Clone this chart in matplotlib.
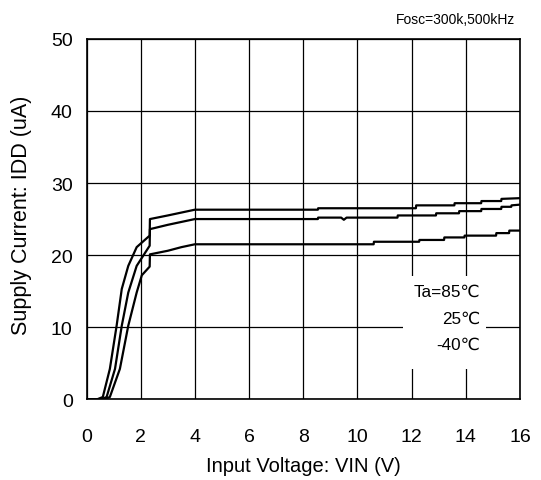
#!/usr/bin/env python3
"""
Supply current vs input voltage (IDD-VIN)
"""
import matplotlib
matplotlib.use('Agg')
import matplotlib.pyplot as plt
from matplotlib.patches import Rectangle

plt.rcParams['font.family'] = ['Liberation Sans', 'DejaVu Sans']

# Ta = 85C (top curve)
vin_85 = [0, 0.4, 0.6, 0.86, 1.11, 1.30, 1.54, 1.85, 2.33, 2.34, 3.0, 3.5, 4.0,
          8.54, 8.55, 12.16, 12.17, 13.58, 13.59, 14.57, 14.58, 15.31, 15.32, 16]
idd_85 = [0, 0, 0.3, 4.2, 10.2, 15.3, 18.5, 21.1, 22.7, 25.0, 25.5, 25.9, 26.3,
          26.3, 26.5, 26.5, 26.9, 26.9, 27.2, 27.2, 27.5, 27.5, 27.8, 27.9]

# Ta = 25C (middle curve)
vin_25 = [0, 0.55, 0.74, 1.05, 1.30, 1.54, 1.85, 2.33, 2.34, 3.0, 3.5, 4.0,
          8.54, 8.55, 9.4, 9.5, 9.6, 9.7, 11.48, 11.49, 12.9, 12.91, 13.75, 13.76,
          14.57, 14.58, 15.31, 15.32, 15.68, 15.69, 16]
idd_25 = [0, 0, 0.3, 4.2, 10.2, 14.8, 18.5, 21.3, 23.6, 24.2, 24.6, 25.0,
          25.0, 25.2, 25.2, 24.9, 25.2, 25.2, 25.2, 25.5, 25.5, 25.8, 25.8, 26.1,
          26.1, 26.4, 26.4, 26.7, 26.7, 26.9, 27.0]

# Ta = -40C (bottom curve)
vin_m40 = [0, 0.65, 0.86, 1.23, 1.54, 1.85, 2.04, 2.33, 2.34, 3.0, 3.5, 4.0,
           10.6, 10.61, 12.28, 12.29, 13.2, 13.21, 13.95, 13.96, 15.12, 15.13,
           15.6, 15.61, 16]
idd_m40 = [0, 0, 0.3, 4.2, 10.2, 14.8, 17.2, 18.4, 20.1, 20.6, 21.1, 21.5,
           21.5, 21.85, 21.85, 22.1, 22.1, 22.45, 22.45, 22.7, 22.7, 23.05,
           23.05, 23.4, 23.4]

x_ticks = list(range(0, 17, 2))
y_ticks = [0, 10, 20, 30, 40, 50]
ta_labels = ['Ta=85\u2103', '25\u2103', '-40\u2103']


def main():
  fig = plt.figure(figsize=(5.41, 4.81), dpi=100)
  ax = fig.add_axes([0.160, 0.168, 0.801, 0.749])

  for v, i in [(vin_85, idd_85), (vin_25, idd_25), (vin_m40, idd_m40)]:
    ax.plot(v, i, color='black', linewidth=1.6, zorder=3)

  ax.set_xlim(0, 16)
  ax.set_ylim(0, 50)
  ax.set_xticks(x_ticks)
  ax.set_yticks(y_ticks)
  ax.grid(True, color='black', linewidth=0.9)
  ax.tick_params(length=0, labelsize=14)
  ax.tick_params(axis='x', pad=21)
  ax.tick_params(axis='y', pad=10)
  for s in ax.spines.values():
    s.set_linewidth(1.2)

  fig.text(0.56, 1 - 467 / 481, 'Input Voltage: VIN (V)', ha='center',
           va='center', fontsize=14.5)
  fig.text(22 / 541, 1 - 215 / 481, 'Supply Current: IDD (uA)', ha='center',
           va='center', rotation=90, fontsize=15.5)

  # blank box behind the temperature labels
  ax.add_patch(Rectangle((11.7, 4.2), 3.05, 12.9, facecolor='white',
                         edgecolor='none', zorder=2.5))
  for lbl, y in zip(ta_labels, [15.0, 11.25, 7.6]):
    ax.text(14.53, y, lbl, ha='right', va='center', fontsize=12.3, zorder=4)

  fig.text(0.952, 1 - 20 / 481, 'Fosc=300k,500kHz', ha='right', va='center',
           fontsize=10)

  fig.savefig('out.png', dpi=100)


if __name__ == '__main__':
  main()
